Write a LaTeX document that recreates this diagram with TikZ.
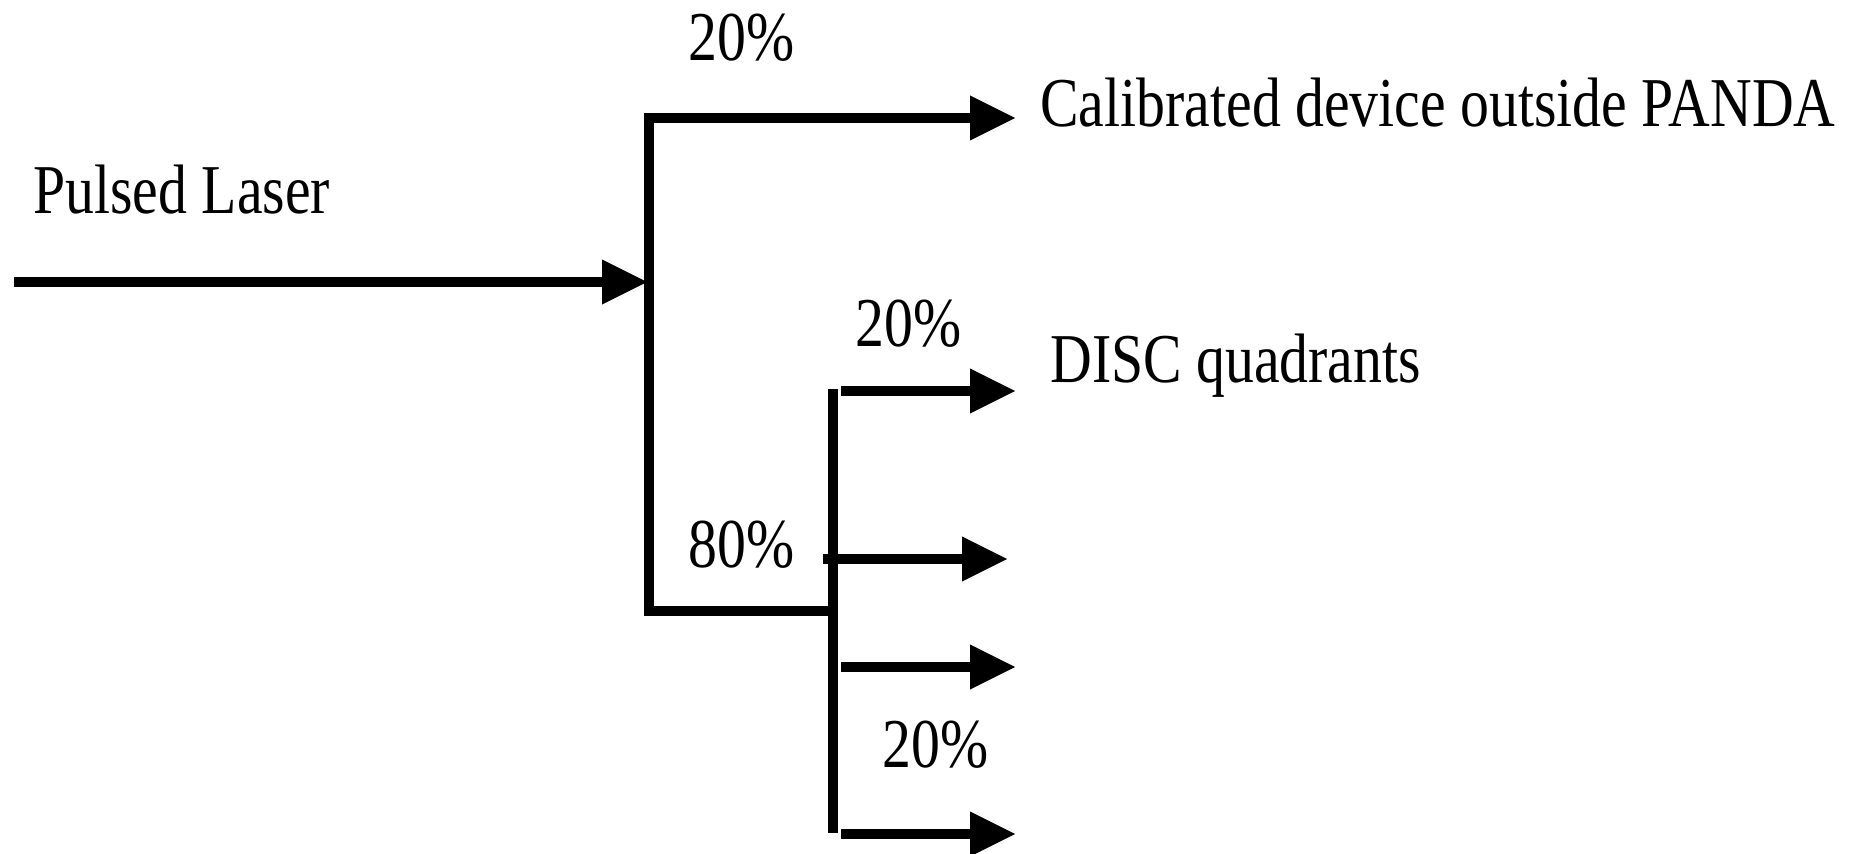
\documentclass[tikz,border=0pt]{standalone}
\usepackage{graphicx}
\usepackage{fontspec}
\setmainfont{Liberation Serif}
\usetikzlibrary{arrows.meta}
\newcommand\squeezetxt[1]{\scalebox{0.825}[1]{#1}}
\begin{document}
\begin{tikzpicture}[x=0.5pt,y=-0.5pt,
  beam/.style={line width=5pt, line join=miter, line cap=butt},
  beamarrow/.style={beam, -{Triangle[length=23pt,width=21pt]}},
  lbl/.style={inner sep=0pt, anchor=base west, font=\fontsize{35}{42}\selectfont},
]
\useasboundingbox (0,0) rectangle (1862,853);
% junction coordinates
\coordinate (src) at (14,282);
\coordinate (inlet) at (648,282);
\coordinate (trunktop) at (649,118);
\coordinate (trunkbot) at (649,611);
\coordinate (split) at (833,611);
\coordinate (calib) at (1016,118);
\coordinate (vtop) at (833,389);
\coordinate (vbot) at (833,833);
\coordinate (b1s) at (841,391);  \coordinate (b1e) at (1016,391);
\coordinate (b2s) at (823,559);  \coordinate (b2e) at (1008,559);
\coordinate (b3s) at (841,667);  \coordinate (b3e) at (1016,667);
\coordinate (b4s) at (841,834);  \coordinate (b4e) at (1016,834);
% connectors
\draw[beamarrow] (src) -- (inlet);
\draw[beamarrow] (split) -- (trunkbot) -- (trunktop) -- (calib);
\draw[beam] (vtop) -- (vbot);
\draw[beamarrow] (b1s) -- (b1e);
\draw[beamarrow] (b2s) -- (b2e);
\draw[beamarrow] (b3s) -- (b3e);
\draw[beamarrow] (b4s) -- (b4e);
% labels
\node[lbl] (laser) at (33,213) {\squeezetxt{Pulsed Laser}};
\node[lbl] (ptop) at (688,60) {\squeezetxt{20\%}};
\node[lbl] (calibtxt) at (1040,126) {\squeezetxt{Calibrated device outside PANDA}};
\node[lbl] (pmid) at (855,346) {\squeezetxt{20\%}};
\node[lbl] (disc) at (1050,382) {\squeezetxt{DISC quadrants}};
\node[lbl] (p80) at (688,567) {\squeezetxt{80\%}};
\node[lbl] (pbot) at (882,767) {\squeezetxt{20\%}};
\end{tikzpicture}
\end{document}
